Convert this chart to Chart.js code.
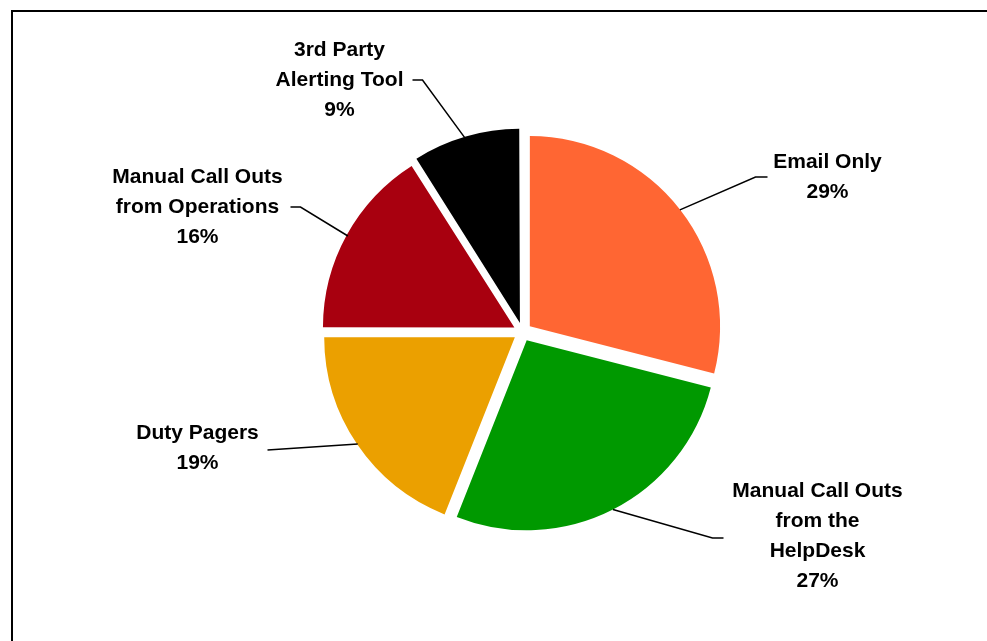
<!DOCTYPE html>
<html>
<head>
<meta charset="utf-8">
<script src="https://cdn.jsdelivr.net/npm/chart.js@4.4.1/dist/chart.umd.min.js"></script>
<style>
    body { margin: 0; background: #fff; }
    #wrap { position: relative; width: 987px; height: 641px; }
    #frame {
        position: absolute; left: 11px; top: 10px; right: -10px; bottom: -10px;
        border-left: 2px solid #000; border-top: 2px solid #000;
    }
    canvas { position: absolute; left: 0; top: 0; }
</style>
</head>
<body>
<div id="wrap">
    <div id="frame"></div>
    <canvas id="pieChart" width="987" height="641"></canvas>
</div>
<script>
// Dados do gráfico
const categories = [
    ['Email Only'],
    ['Manual Call Outs', 'from the', 'HelpDesk'],
    ['Duty Pagers'],
    ['Manual Call Outs', 'from Operations'],
    ['3rd Party', 'Alerting Tool']
];
const values = [29, 27, 19, 16, 9];
const colors = ['#FF6633', '#009900', '#EBA000', '#A8000F', '#000000'];

// Posição dos rótulos (relativa ao centro da pizza): cotovelo, fim da linha, texto
const labelLayout = [
    { elbow: [233, -155], end: [245, -155], text: [305, -170] },
    { elbow: [190, 206], end: [201, 206], text: [295, 159] },
    { elbow: [-255, 118], end: [-255, 118], text: [-325, 101] },
    { elbow: [-222, -125], end: [-232, -125], text: [-325, -155] },
    { elbow: [-100, -252], end: [-110, -252], text: [-183, -282] }
];

const total = values.reduce((a, b) => a + b, 0);

// Plugin para rótulos com linhas de chamada
const leaderLabels = {
    id: 'leaderLabels',
    afterDatasetsDraw(chart) {
        const ctx = chart.ctx;
        const meta = chart.getDatasetMeta(0);
        const area = chart.chartArea;
        const cx = (area.left + area.right) / 2;
        const cy = (area.top + area.bottom) / 2;
        ctx.save();
        ctx.strokeStyle = '#000';
        ctx.lineWidth = 1.5;
        ctx.fillStyle = '#000';
        ctx.font = 'bold 21px "Liberation Sans", Arial, sans-serif';
        ctx.textAlign = 'center';
        ctx.textBaseline = 'middle';
        meta.data.forEach((arc, i) => {
            const mid = (arc.startAngle + arc.endAngle) / 2;
            const off = (arc.options.offset || 0) / 4;
            const ox = arc.x + Math.cos(mid) * off;
            const oy = arc.y + Math.sin(mid) * off;
            const sx = ox + Math.cos(mid) * arc.outerRadius;
            const sy = oy + Math.sin(mid) * arc.outerRadius;
            const lay = labelLayout[i];
            ctx.beginPath();
            ctx.moveTo(sx, sy);
            ctx.lineTo(cx + lay.elbow[0], cy + lay.elbow[1]);
            ctx.lineTo(cx + lay.end[0], cy + lay.end[1]);
            ctx.stroke();
            const lines = categories[i].concat([Math.round(values[i] / total * 100) + '%']);
            lines.forEach((line, j) => {
                ctx.fillText(line, cx + lay.text[0], cy + lay.text[1] + j * 30);
            });
        });
        ctx.restore();
    }
};

const ctxPie = document.getElementById('pieChart').getContext('2d');
window.pieChart = new Chart(ctxPie, {
    type: 'pie',
    data: {
        labels: categories.map(c => c.join(' ')),
        datasets: [{
            data: values,
            backgroundColor: colors,
            borderWidth: 0,
            offset: 37
        }]
    },
    options: {
        responsive: false,
        animation: false,
        radius: 190,
        layout: {
            padding: { left: 58, right: 0, top: 23, bottom: 0 }
        },
        plugins: {
            legend: { display: false },
            tooltip: { enabled: false }
        }
    },
    plugins: [leaderLabels]
});
</script>
</body>
</html>
